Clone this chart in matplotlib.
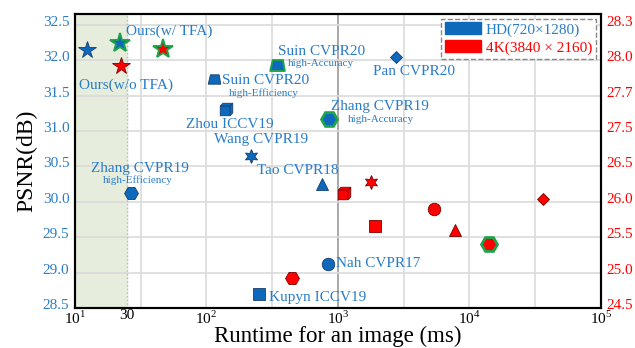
import numpy as np
import matplotlib
matplotlib.use("Agg")
import matplotlib.pyplot as plt
import matplotlib.transforms as mtrans
from matplotlib.path import Path
from matplotlib.patches import Patch

plt.rcParams['font.family'] = ['Liberation Serif', 'DejaVu Serif']
plt.rcParams['mathtext.fontset'] = 'custom'
plt.rcParams['mathtext.rm'] = 'Liberation Serif'

# ---------------- data (runtime ms, PSNR dB) ----------------
# HD 720x1280
hd_names = ["Ours(w/o TFA)", "Ours(w/ TFA)", "Suin high-Eff", "Zhou ICCV19", "Suin high-Acc",
            "Pan CVPR20", "Zhang high-Acc", "Wang CVPR19", "Tao CVPR18", "Zhang high-Eff",
            "Nah CVPR17", "Kupyn ICCV19"]
hd_time = [12.3, 22.0, 114, 140, 347, 2790, 859, 217, 752, 26.7, 843, 251]
hd_psnr = [32.14, 32.25, 31.74, 31.31, 31.93, 32.04, 31.17, 30.65, 30.25, 30.13, 29.12, 28.70]
hd_marker = ["star5", "star5", "trap", "cube", "trap", "diamond", "hex", "star6", "tri", "hex", "circle", "square"]
hd_green = [False, True, False, False, True, False, True, False, False, False, False, False]

# 4K 3840x2160
k4_names = ["Ours(w/o TFA)", "Ours(w/ TFA)", "Zhang high-Eff", "Zhou ICCV19", "Wang CVPR19",
            "Kupyn ICCV19", "Nah CVPR17", "Tao CVPR18", "Zhang high-Acc", "Pan CVPR20"]
k4_time = [22.4, 47, 445, 1111, 1782, 1911, 5370, 7850, 14070, 36400]
k4_psnr = [31.92, 32.16, 28.93, 30.13, 30.28, 29.66, 29.90, 29.60, 29.40, 30.04]
k4_marker = ["star5", "star5", "hex", "cube", "star6", "square", "circle", "tri", "hex", "diamond"]
k4_green = [False, True, False, False, False, False, False, False, True, False]

# text labels: (text, x, y, small)
labels = [
    ("Ours(w/ TFA)", 24.3, 32.415, False),
    ("Ours(w/o TFA)", 10.7, 31.64, False),
    ("Suin CVPR20", 130.6, 31.72, False),
    ("high-Efficiency", 148, 31.54, True),
    ("Suin CVPR20", 350, 32.12, False),
    ("high-Accuracy", 417, 31.95, True),
    ("Pan CVPR20", 1836, 31.84, False),
    ("Zhang CVPR19", 895, 31.34, False),
    ("high-Accuracy", 1185, 31.16, True),
    ("Zhou ICCV19", 69.8, 31.09, False),
    ("Wang CVPR19", 114, 30.875, False),
    ("Tao CVPR18", 242, 30.44, False),
    ("Zhang CVPR19", 13.2, 30.47, False),
    ("high-Efficiency", 16.3, 30.30, True),
    ("Nah CVPR17", 977, 29.13, False),
    ("Kupyn ICCV19", 298, 28.65, False),
]

left_ticks = [28.5, 29.0, 29.5, 30.0, 30.5, 31.0, 31.5, 32.0, 32.5]
right_labels = ["24.5", "25.0", "25.5", "26.0", "26.5", "27.5", "27.7", "28.0", "28.3"]

# ---------------- marker shapes ----------------
trap = Path([(-1, -0.75), (1, -0.75), (0.75, 0.75), (-0.65, 0.75), (-1, -0.75)],
            [Path.MOVETO, Path.LINETO, Path.LINETO, Path.LINETO, Path.CLOSEPOLY])
cube_out = Path([(-1, -1), (0.55, -1), (1, -0.55), (1, 1), (-0.55, 1), (-1, 0.55), (-1, -1)],
                [Path.MOVETO] + [Path.LINETO] * 5 + [Path.CLOSEPOLY])
cube_in = Path([(-1, 0.55), (0.55, 0.55), (0.55, -1), (0.55, 0.55), (1, 1)],
               [Path.MOVETO, Path.LINETO, Path.LINETO, Path.MOVETO, Path.LINETO])
mk = {"star5": ("*", 13), "star6": ((6, 1, 0), 10), "trap": (trap, 9), "cube": (cube_out, 9),
      "diamond": ("D", 6), "hex": ("H", 10), "tri": ("^", 8), "circle": ("o", 9), "square": ("s", 8)}

BLUE = "#0E68BC"
TXT = "#2A7CC7"
RED = "#FF0000"
GREEN = "#1FA34A"

fig = plt.figure(figsize=(6.35, 3.48), dpi=100)
ax = fig.add_axes([0.118, 0.115, 0.828, 0.845])
ax.set_xscale("log")
ax.set_xlim(10, 1e5)
ax.set_ylim(28.5, 32.655)

# shaded "real-time" region
ax.axvspan(10, 25, color="#E6EDDC", zorder=0)
ax.axvline(25, color="#BBBBBB", ls=":", lw=1, zorder=1)

# grid at decades and half decades
for e in np.arange(1.5, 5.0, 0.5):
    c = "#9A9A9A" if e == 3 else "#DADADA"
    ax.axvline(10 ** e, color=c, lw=1.2, zorder=0.5)
for v in left_ticks[1:]:
    ax.axhline(v, color="#DADADA", lw=1.2, zorder=0.5)

def draw(times, psnrs, marks, greens, fc, ec):
    for t, p, m, g in zip(times, psnrs, marks, greens):
        shape, size = mk[m]
        if g:
            mew = 2.0 if m == "hex" else 1.4
            ax.plot(t, p, marker=shape, ms=size + 1.5, mfc=fc, mec=GREEN, mew=mew, ls="none", zorder=3)
        else:
            ax.plot(t, p, marker=shape, ms=size, mfc=fc, mec=ec, mew=0.6, ls="none", zorder=3)
        if m == "cube":
            ax.plot(t, p, marker=cube_in, ms=size, mfc="none", mec=ec, mew=0.6, ls="none", zorder=3.1)

draw(hd_time, hd_psnr, hd_marker, hd_green, BLUE, "#163E6B")
draw(k4_time, k4_psnr, k4_marker, k4_green, RED, "#7A0000")

for s, x, y, small in labels:
    ax.text(x, y, s, color=TXT, fontsize=8 if small else 11, ha="left", va="center", zorder=4)

ax.set_xticks([10, 25, 100, 1000, 10000, 100000])
ax.set_xticklabels([r"$10^1$", "30", r"$10^2$", r"$10^3$", r"$10^4$", r"$10^5$"], fontsize=11)
ax.xaxis.set_minor_locator(matplotlib.ticker.NullLocator())
ax.set_yticks(left_ticks)
ax.set_yticklabels(["%.1f" % v for v in left_ticks], color=TXT, fontsize=11)
ax.tick_params(length=0, pad=4)
ax.tick_params(axis="x", pad=1)
ax.set_xlabel("Runtime for an image (ms)", fontsize=16.5, labelpad=-0.5)
ax.set_ylabel("PSNR(dB)", fontsize=17, labelpad=4)
for sp in ax.spines.values():
    sp.set_linewidth(1.5)

ax2 = ax.twinx()
ax2.set_ylim(ax.get_ylim())
ax2.set_yticks(left_ticks)
ax2.set_yticklabels(right_labels, color=RED, fontsize=11)
ax2.tick_params(length=0, pad=4)
for sp in ax2.spines.values():
    sp.set_linewidth(1.5)

# y tick labels sit a little above their grid lines in the original
up = mtrans.ScaledTranslation(0, 4 / 100, fig.dpi_scale_trans)
for lab in ax.get_yticklabels() + ax2.get_yticklabels():
    lab.set_transform(lab.get_transform() + up)

handles = [Patch(facecolor=BLUE, edgecolor=BLUE), Patch(facecolor=RED, edgecolor=RED)]
leg = ax.legend(handles, ["HD(720\u00d71280)", "4K(3840 \u00d7 2160)"], loc="upper right",
                fontsize=11, handlelength=2.4, handleheight=0.8, handletextpad=0.3,
                labelspacing=0.25, borderpad=0.25, borderaxespad=0.3, fancybox=False,
                framealpha=1, edgecolor="#888888")
leg.get_frame().set_linestyle("--")
leg.get_frame().set_linewidth(1)
leg.get_texts()[0].set_color(TXT)
leg.get_texts()[1].set_color(RED)
leg.set_zorder(5)

fig.savefig("out.png", dpi=100)
